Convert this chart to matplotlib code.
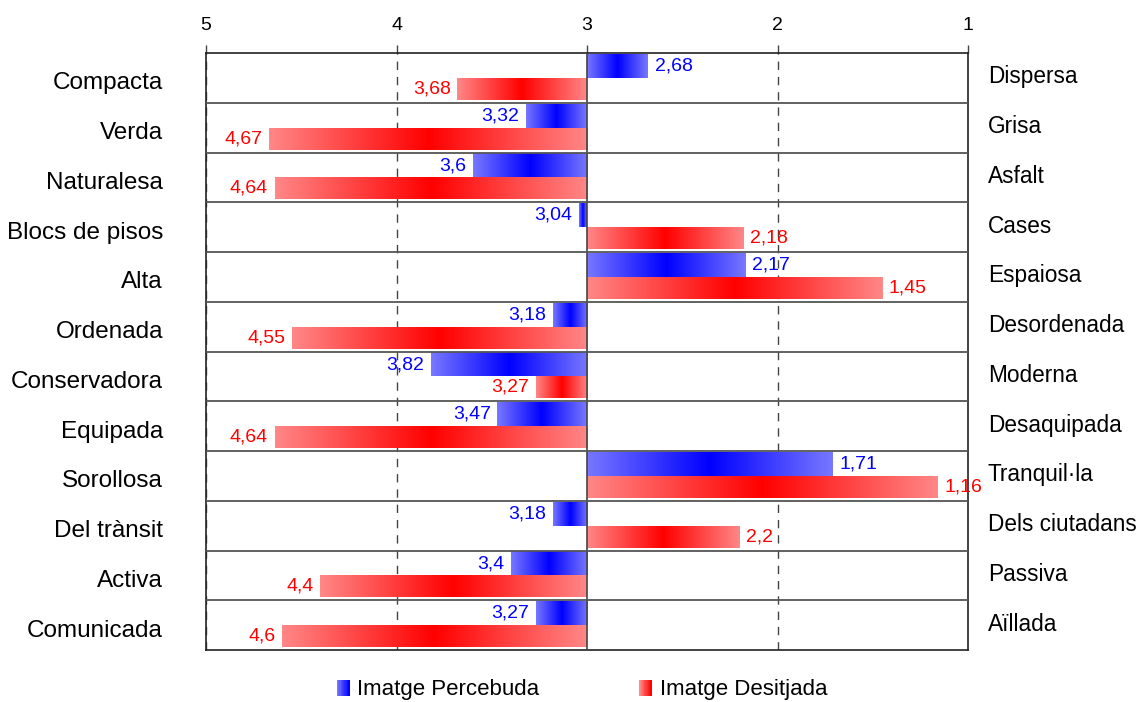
import matplotlib
matplotlib.use("Agg")
import matplotlib.pyplot as plt
import numpy as np
from matplotlib.colors import LinearSegmentedColormap
from matplotlib.patches import Rectangle
from matplotlib.legend_handler import HandlerBase

plt.rcParams['font.family'] = ['Liberation Sans', 'DejaVu Sans']

left_labels = ['Compacta', 'Verda', 'Naturalesa', 'Blocs de pisos', 'Alta', 'Ordenada',
               'Conservadora', 'Equipada', 'Sorollosa', 'Del trànsit', 'Activa', 'Comunicada']
right_labels = ['Dispersa', 'Grisa', 'Asfalt', 'Cases', 'Espaiosa', 'Desordenada',
                'Moderna', 'Desaquipada', 'Tranquil·la', 'Dels ciutadans', 'Passiva', 'Aïllada']
percebuda = [2.68, 3.32, 3.6, 3.04, 2.17, 3.18, 3.82, 3.47, 1.71, 3.18, 3.4, 3.27]
desitjada = [3.68, 4.67, 4.64, 2.18, 1.45, 4.55, 3.27, 4.64, 1.16, 2.2, 4.4, 4.6]
ticks = [5, 4, 3, 2, 1]
centre = 3

blue_cmap = LinearSegmentedColormap.from_list('b', [(0.47, 0.47, 1), (0, 0, 1), (0.47, 0.47, 1)])
red_cmap = LinearSegmentedColormap.from_list('r', [(1, 0.53, 0.53), (1, 0, 0), (1, 0.53, 0.53)])


class GradHandler(HandlerBase):
    def __init__(self, cmap):
        super().__init__()
        self.cmap = cmap

    def create_artists(self, legend, orig_handle, xdescent, ydescent, width, height, fontsize, trans):
        n = 10
        out = []
        for k in range(n):
            r = Rectangle((-xdescent + k * width / n, -ydescent), width / n + 0.3, height,
                          facecolor=self.cmap(0.5 * k / (n - 1)), edgecolor='none', transform=trans)
            out.append(r)
        return out


fig = plt.figure(figsize=(11.41, 7.02), dpi=100)
ax = fig.add_axes([206 / 1141, 1 - 650 / 702, 762 / 1141, 597 / 702])

y = np.arange(len(left_labels))
bars_b = ax.barh(y - 0.235, np.array(percebuda) - centre, left=centre, height=0.47, color='none')
bars_r = ax.barh(y + 0.22, np.array(desitjada) - centre, left=centre, height=0.44, color='none')

grad = np.linspace(0, 1, 256).reshape(1, -1)
for bars, cmap in [(bars_b, blue_cmap), (bars_r, red_cmap)]:
    for p in bars:
        x0, y0, w, h = p.get_x(), p.get_y(), p.get_width(), p.get_height()
        ax.imshow(grad, cmap=cmap, aspect='auto', extent=[x0, x0 + w, y0, y0 + h],
                  interpolation='bilinear', zorder=2)

ax.set_xlim(5, 1)
ax.set_ylim(len(left_labels) - 0.5, -0.5)

# grid / separators
for t in [5, 4, 2]:
    ax.axvline(t, color='#444444', lw=1, ls=(0, (6, 5)), zorder=1)
ax.axvline(centre, color='#444444', lw=1.2, zorder=3)
for i in range(len(left_labels) - 1):
    ax.axhline(i + 0.5, color='#555555', lw=1.3, zorder=3)

ax.xaxis.tick_top()
ax.set_xticks(ticks)
ax.set_xticklabels([str(t) for t in ticks], fontsize=14)
ax.tick_params(axis='x', direction='out', length=6, width=1, color='#444444', pad=8)
ax.set_yticks([])
for s in ax.spines.values():
    s.set_color('#222222')
    s.set_linewidth(1.2)

tr = ax.get_yaxis_transform()
for i in range(len(left_labels)):
    ax.text(-0.0564, i + 0.233, left_labels[i], transform=tr, ha='right', va='baseline', fontsize=17.5)
    ax.text(1.0262, i + 0.113, right_labels[i], transform=tr, ha='left', va='baseline', fontsize=16.3)


def fmt(v):
    return str(v).replace('.', ',')


off = 0.035
for vals, yy, col in [(percebuda, y - 0.235, '#0000ff'), (desitjada, y + 0.22, '#ff0000')]:
    for v, yv in zip(vals, yy):
        if v > centre:
            ax.text(v + off, yv, fmt(v), ha='right', va='center', fontsize=14, color=col, zorder=5)
        else:
            ax.text(v - off, yv, fmt(v), ha='left', va='center', fontsize=14, color=col, zorder=5)

hb = Rectangle((0, 0), 1, 1)
hr = Rectangle((0, 0), 1, 1)
fig.legend([hb, hr], ['Imatge Percebuda', 'Imatge Desitjada'],
           handler_map={hb: GradHandler(blue_cmap), hr: GradHandler(red_cmap)},
           loc='center', bbox_to_anchor=(582 / 1141, 1 - 690 / 702), ncol=2, frameon=False,
           fontsize=16, handlelength=0.55, handleheight=0.7, handletextpad=0.36,
           columnspacing=4.5)

fig.savefig('out.png', dpi=100)
